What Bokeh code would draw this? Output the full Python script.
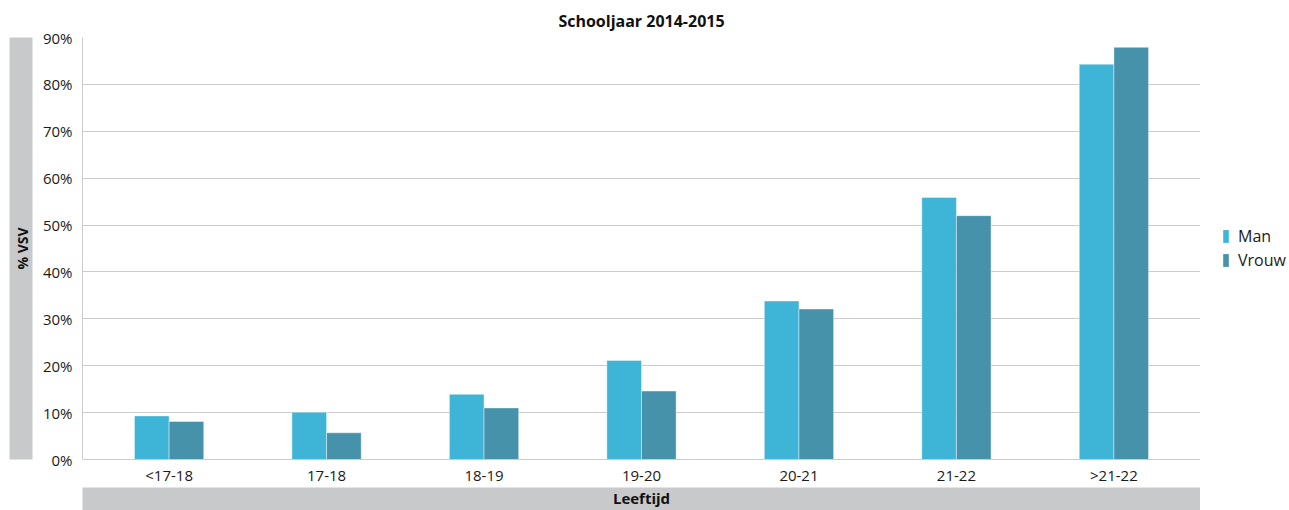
import numpy as np
from bokeh.plotting import figure
from bokeh.layouts import row
from bokeh.models import (Range1d, FixedTicker, LinearAxis, Legend, LegendItem, ColumnDataSource)
from bokeh.embed import file_html
from bokeh.resources import INLINE

categories = ["<17-18", "17-18", "18-19", "19-20", "20-21", "21-22", ">21-22"]
man = [9.3, 10.1, 13.9, 21.1, 33.8, 55.9, 84.3]
vrouw = [8.1, 5.7, 11.0, 14.6, 32.1, 52.0, 87.9]
y_ticks = [0, 10, 20, 30, 40, 50, 60, 70, 80, 90]
series_names = ["Man", "Vrouw"]

FONT = "Open Sans"
C_MAN = "#3eb4d7"
C_VROUW = "#4692aa"
BAND = "#c8c9cb"

xs = np.arange(len(categories))
bw = 0.22
src = ColumnDataSource(dict(xm=xs - bw / 2, xv=xs + bw / 2, man=man, vrouw=vrouw))

p = figure(width=1200, height=510, output_backend="svg", toolbar_location=None,
           x_range=Range1d(-0.55, len(categories) - 1 + 0.55), y_range=Range1d(0, 90),
           min_border_left=82, min_border_right=0, min_border_top=37, min_border_bottom=51,
           title="Schooljaar 2014-2015")
p.outline_line_color = None
p.background_fill_color = "white"
p.border_fill_color = "white"

p.title.align = "center"
p.title.text_font = FONT
p.title.text_font_size = "16px"
p.title.text_font_style = "bold"
p.title.text_color = "#111111"
p.title.standoff = 12

bar_style = dict(line_color="white", line_width=0.6, line_alpha=0.7)
p.vbar(x="xm", top="man", width=bw, source=src, fill_color=C_MAN, **bar_style)
p.vbar(x="xv", top="vrouw", width=bw, source=src, fill_color=C_VROUW, **bar_style)

# main axes
p.xaxis.ticker = FixedTicker(ticks=list(xs))
p.xaxis.major_label_overrides = {int(i): c for i, c in zip(xs, categories)}
p.yaxis.ticker = FixedTicker(ticks=y_ticks)
p.yaxis.major_label_overrides = {t: f"{t}%" for t in y_ticks}
for ax in (p.xaxis[0], p.yaxis[0]):
    ax.axis_line_color = "#cccccc"
    ax.major_tick_line_color = None
    ax.minor_tick_line_color = None
    ax.major_tick_out = 0
    ax.minor_tick_out = 0
    ax.major_label_text_font = FONT
    ax.major_label_text_font_size = "15px"
    ax.major_label_text_color = "#1a1a1a"
p.xaxis.major_label_standoff = 5
p.yaxis.major_label_standoff = 10

p.xgrid.grid_line_color = None
p.ygrid.grid_line_color = "#cccccc"
p.ygrid.grid_line_width = 1


def bare_axis(**kw):
    return LinearAxis(ticker=FixedTicker(ticks=[]), axis_line_color=None,
                      major_tick_line_color=None, minor_tick_line_color=None,
                      major_tick_out=0, minor_tick_out=0, major_tick_in=0, minor_tick_in=0,
                      major_label_standoff=0, **kw)


def label_axis(text, standoff, size):
    return bare_axis(axis_label=text, axis_label_standoff=standoff,
                     axis_label_text_font=FONT, axis_label_text_font_size=size,
                     axis_label_text_font_style="bold", axis_label_text_color="#111111",
                     background_fill_color=BAND)


# white gap between tick labels and the grey band
p.add_layout(bare_axis(axis_label=" ", axis_label_standoff=3,
                       axis_label_text_font_size="1px"), "left")
p.add_layout(label_axis("% VSV", 1, "14px"), "left")
p.add_layout(label_axis("Leeftijd", 0, "15px"), "below")

# legend panel on the right
side = figure(width=89, height=510, output_backend="svg", toolbar_location=None,
              x_range=Range1d(0, 1), y_range=Range1d(0, 1),
              min_border=0, min_border_left=0, min_border_right=0,
              min_border_top=0, min_border_bottom=0)
side.axis.visible = False
side.grid.visible = False
side.outline_line_color = None
side.background_fill_color = "white"
side.border_fill_color = "white"
# legend swatches only (placed outside the visible range)
lr_man = side.vbar(x=[5], top=[5], width=0.1, fill_color=C_MAN, line_color=None)
lr_vrouw = side.vbar(x=[5], top=[5], width=0.1, fill_color=C_VROUW, line_color=None)

legend = Legend(items=[LegendItem(label=series_names[0], renderers=[lr_man]),
                       LegendItem(label=series_names[1], renderers=[lr_vrouw])],
                location=(22, 188), padding=0, margin=0, spacing=2,
                glyph_width=7, glyph_height=16, label_height=20, label_standoff=9,
                label_text_font=FONT, label_text_font_size="16px", label_text_color="#1a1a1a",
                border_line_color=None, background_fill_alpha=0)
side.add_layout(legend, "center")

layout = row(p, side, spacing=0)
open("out.html", "w").write(file_html(layout, INLINE))
